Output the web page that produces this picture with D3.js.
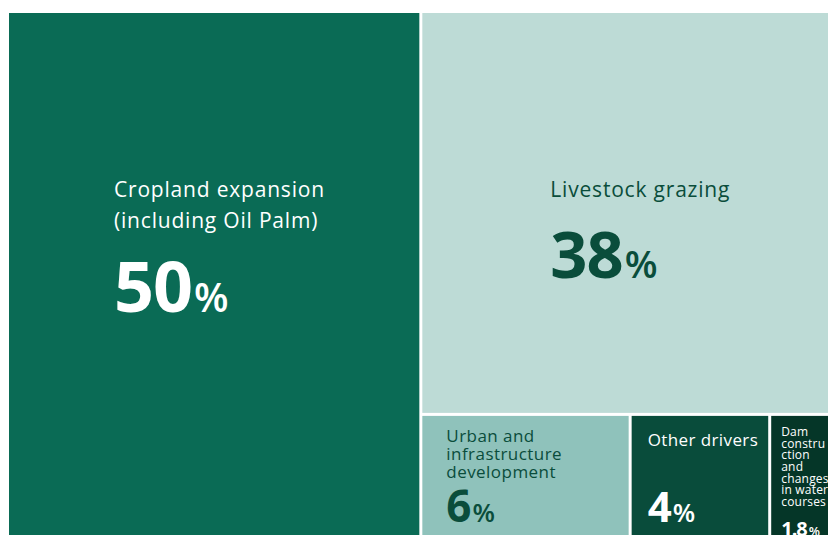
<!DOCTYPE html>
<html>
<head>
<meta charset="utf-8">
<script src="https://cdn.jsdelivr.net/npm/d3@7/dist/d3.min.js"></script>
<style>
  html, body { margin: 0; padding: 0; background: #ffffff; }
  svg { display: block; }
  text { font-family: "Open Sans", "Noto Sans", sans-serif; }
</style>
</head>
<body>
<svg id="chart" width="828" height="535"></svg>
<script>
// Drivers of habitat loss and their shares (%)
const drivers = [
  "Cropland expansion (including Oil Palm)",
  "Livestock grazing",
  "Urban and infrastructure development",
  "Other drivers",
  "Dam construction and changes in water courses"
];
const shares = [50, 38, 6, 4, 1.8];
const labelLines = [
  ["Cropland expansion", "(including Oil Palm)"],
  ["Livestock grazing"],
  ["Urban and", "infrastructure", "development"],
  ["Other drivers"],
  ["Dam", "constru", "ction", "and", "changes", "in water", "courses"]
];
// Nesting used for the slice-and-dice layout
const groupPath = ["", "rest", "rest/small", "rest/small", "rest/small"];

// Cell styling
const fills = ["#0a6b55", "#bddbd6", "#8fc2bb", "#094c3b", "#053628"];
const inks = ["#ffffff", "#0a4d3b", "#0a4d3b", "#ffffff", "#ffffff"];
const labelStyle = [
  { dx: 105, dy: 184, size: 21, ls: 0.8, lead: 31, numDy: 299, num: 70, pct: 40 },
  { dx: 128, dy: 184, size: 21, ls: 0.8, lead: 31, numDy: 265, num: 65, pct: 38 },
  { dx: 24,  dy: 26,  size: 17, ls: 0.45, lead: 18.3, numDy: 106, num: 44, pct: 26 },
  { dx: 16,  dy: 30,  size: 17, ls: 0.4, lead: 18.3, numDy: 106, num: 42, pct: 26 },
  { dx: 10,  dy: 20,  size: 12, ls: 0.2, lead: 11.7, numDy: 120.5, num: 20, pct: 13 }
];

const chartW = 822, chartH = 525, marginLeft = 9, marginTop = 13;

// Build the nested tree from the flat arrays
const tree = { name: "root", children: [] };
function nodeAt(path) {
  let node = tree;
  if (!path) return node;
  for (const part of path.split("/")) {
    let child = node.children.find(c => c.name === part);
    if (!child) { child = { name: part, children: [] }; node.children.push(child); }
    node = child;
  }
  return node;
}
drivers.forEach((d, i) => {
  nodeAt(groupPath[i]).children.push({ name: d, index: i, value: shares[i] });
});

const hierarchy = d3.hierarchy(tree)
  .sum(d => d.value || 0);

d3.treemap()
  .tile(d3.treemapSliceDice)
  .size([chartW, chartH])
  .paddingInner(3)
  (hierarchy);

const svg = d3.select("#chart");
const g = svg.append("g").attr("transform", `translate(${marginLeft},${marginTop})`);

const cells = g.selectAll("g.cell")
  .data(hierarchy.leaves())
  .join("g")
  .attr("class", "cell")
  .attr("transform", d => `translate(${d.x0},${d.y0})`);

cells.append("rect")
  .attr("width", d => d.x1 - d.x0)
  .attr("height", d => d.y1 - d.y0)
  .attr("fill", d => fills[d.data.index]);

cells.each(function (d) {
  const i = d.data.index;
  const s = labelStyle[i];
  const cell = d3.select(this);
  const label = cell.append("text")
    .attr("fill", inks[i])
    .attr("font-size", s.size)
    .attr("letter-spacing", s.ls);
  labelLines[i].forEach((line, k) => {
    label.append("tspan")
      .attr("x", s.dx)
      .attr("y", s.dy + k * s.lead)
      .text(line);
  });
  const num = cell.append("text")
    .attr("x", s.dx)
    .attr("y", s.numDy)
    .attr("fill", inks[i])
    .attr("font-weight", 700);
  num.append("tspan")
    .attr("font-size", s.num)
    .attr("letter-spacing", -1)
    .text(String(shares[i]));
  num.append("tspan")
    .attr("font-size", s.pct)
    .attr("font-weight", 600)
    .attr("dx", 2)
    .text("%");
});
</script>
</body>
</html>
